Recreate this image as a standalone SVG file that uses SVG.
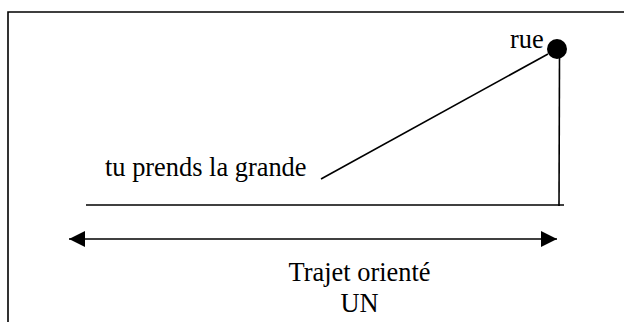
<svg xmlns="http://www.w3.org/2000/svg" width="624" height="322" viewBox="0 0 624 322">
<style>
.ln{stroke:#000;stroke-width:1.6;fill:none}
.t{font-family:"Liberation Serif","Times New Roman",serif;font-size:26.4px;fill:#000}
</style>
<defs>
<marker id="ah" viewBox="0 0 16 16" refX="16" refY="8" markerWidth="16" markerHeight="16" markerUnits="userSpaceOnUse" orient="auto-start-reverse">
<path d="M0,0 L16,8 L0,16 z" fill="#000"/>
</marker>
</defs>
<rect width="624" height="322" fill="#fff"/>
<path class="ln" d="M8,322 V12 H624" stroke-width="2"/>
<g id="connectors">
<line class="ln" x1="321" y1="179" x2="548" y2="54"/>
<line class="ln" x1="559.5" y1="56" x2="559" y2="206"/>
<line class="ln" x1="86" y1="205" x2="564" y2="205"/>
<line class="ln" x1="69" y1="239" x2="557" y2="239" stroke-width="2.2" marker-start="url(#ah)" marker-end="url(#ah)"/>
</g>
<g id="rue">
<circle cx="557" cy="49" r="10" fill="#000"/>
<text class="t" x="510" y="48">rue</text>
</g>
<g id="label-grande">
<text class="t" x="105" y="176">tu prends la grande</text>
</g>
<g id="label-trajet">
<text class="t" x="359.5" y="281" text-anchor="middle">Trajet orienté</text>
<text class="t" x="359.5" y="312" text-anchor="middle">UN</text>
</g>
</svg>
